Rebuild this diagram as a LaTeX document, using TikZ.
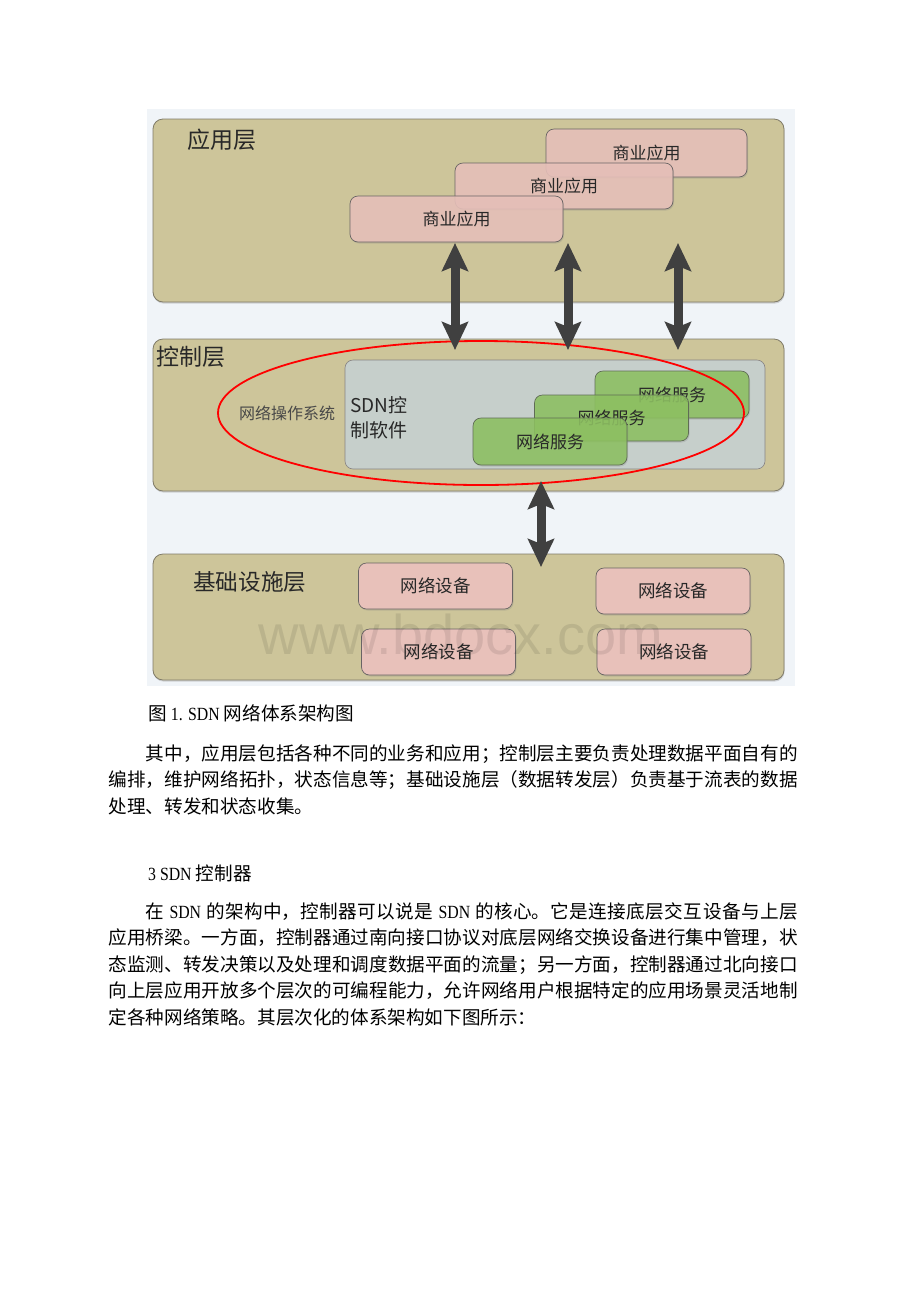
\documentclass[tikz,border=0pt]{standalone}
\usepackage{fontspec}
\setmainfont{Noto Sans CJK SC}
\newfontfamily\lat[FakeStretch=0.85]{Liberation Serif}
\newfontfamily\wmfont{Liberation Sans}
\usetikzlibrary{arrows.meta,shadows,shapes.geometric}
\XeTeXlinebreaklocale "zh"
\XeTeXlinebreakskip=0pt plus 1pt minus 0.3pt
\definecolor{page_bg}{RGB}{240,244,248}
\definecolor{layer_tan}{RGB}{205,197,154}
\definecolor{layer_edge}{RGB}{128,123,104}
\definecolor{box_pink}{RGB}{232,193,186}
\definecolor{box_edge}{RGB}{105,100,100}
\definecolor{sdn_gray}{RGB}{198,207,203}
\definecolor{svc_green}{RGB}{141,194,96}
\definecolor{svc_edge}{RGB}{95,108,85}
\definecolor{arrow_gray}{RGB}{64,64,64}
\definecolor{text_dark}{RGB}{40,40,40}

\begin{document}
\begin{tikzpicture}[x=1pt,y=-1pt]
    \tikzstyle{layer}=[draw=layer_edge, fill=layer_tan, rounded corners=10pt, line width=0.8pt, inner sep=0pt, minimum width=631pt, drop shadow={shadow xshift=0.6pt,shadow yshift=-1.6pt,opacity=0.3}]
    \tikzstyle{pinkbox}=[draw=box_edge, fill=box_pink, fill opacity=0.88, text opacity=1, rounded corners=8pt, line width=0.7pt, inner sep=0pt, text=text_dark, font=\fontsize{17}{17}\selectfont, drop shadow={shadow xshift=1pt,shadow yshift=-1.5pt,opacity=0.25}]
    \tikzstyle{svcbox}=[pinkbox, draw=svc_edge, fill=svc_green, fill opacity=0.85, minimum width=154pt, minimum height=47pt]
    \tikzstyle{devbox}=[pinkbox, fill opacity=1, minimum width=154pt, minimum height=46pt, font=\fontsize{17.5}{17.5}\selectfont]
    \tikzstyle{lbl}=[anchor=west, inner sep=0pt, text=text_dark, font=\fontsize{23}{23}\selectfont]
    \tikzstyle{dual}=[draw=arrow_gray, line width=9pt, {Stealth[length=28pt,width=26pt,inset=5pt]}-{Stealth[length=28pt,width=26pt,inset=5pt]}]
    \tikzstyle{line}=[anchor=base west, inner sep=0pt, font=\fontsize{18.6}{26.4}\selectfont]
    \tikzstyle{para}=[line, text width=689pt, align=justify]

    \useasboundingbox (0,0) rectangle (920,1302);
    \fill[white] (0,0) rectangle (920,1302);
    \fill[page_bg] (147,109) rectangle (795,686);

    % three layers
    \node[layer, minimum height=183pt] (app)   at (468.5,210.5) {};
    \node[layer, minimum height=152pt] (ctl)   at (468.5,415)   {};
    \node[layer, minimum height=126pt] (infra) at (468.5,617)   {};
    \node[lbl] (appl)   at (187,140) {应用层};
    \node[lbl] (ctll)   at (156,357) {控制层};
    \node[lbl, font=\fontsize{22.6}{22.6}\selectfont] (infral) at (193,582) {基础设施层};

    % business applications
    \node[pinkbox, minimum width=201pt, minimum height=48pt] (biz1) at (646.5,153) {商业应用};
    \node[pinkbox, minimum width=218pt, minimum height=46pt] (biz2) at (564,186)   {商业应用};
    \node[pinkbox, minimum width=213pt, minimum height=46pt] (biz3) at (456.5,219) {商业应用};

    % controller software
    \node[draw=box_edge!80, fill=sdn_gray, rounded corners=8pt, line width=0.6pt, minimum width=420pt, minimum height=109pt] (sdn) at (555,414.5) {};
    \node[anchor=north west, inner sep=0pt, align=left, text=text_dark, font=\fontsize{19}{25}\selectfont] (sdnl) at (350,396) {SDN控\\制软件};
    \node[svcbox] (svc1) at (672,394.5)   {网络服务};
    \node[svcbox, minimum height=46pt] (svc2) at (611.5,418) {网络服务};
    \node[svcbox] (svc3) at (550,441.5)   {网络服务};

    % network devices
    \node[devbox] (dev1) at (435.5,586) {网络设备};
    \node[devbox] (dev2) at (673,591)   {网络设备};
    \node[devbox] (dev3) at (438.5,652) {网络设备};
    \node[devbox] (dev4) at (674,652)   {网络设备};
    \node[inner sep=0pt, text=black, text opacity=0.09, font=\wmfont\fontsize{56}{56}\selectfont] (wmark) at (461,634) {www.bdocx.com};

    % network operating system
    \node[ellipse, draw=red, line width=1.8pt, minimum width=526pt, minimum height=144pt, inner sep=0pt] (nos) at (481,413) {};
    \node[inner sep=0pt, text=text_dark!85, font=\fontsize{16}{16}\selectfont] (nosl) at (287,413) {网络操作系统};

    % interfaces
    \coordinate (n1) at (455,243); \coordinate (s1) at (455,350);
    \coordinate (n2) at (568,243); \coordinate (s2) at (568,350);
    \coordinate (n3) at (678,243); \coordinate (s3) at (678,350);
    \coordinate (n4) at (541,481); \coordinate (s4) at (541,567);
    \path
     (n1) edge[dual] (s1)
     (n2) edge[dual] (s2)
     (n3) edge[dual] (s3)
     (n4) edge[dual] (s4)
     ;

    % text below
    \node[line] (cap) at (148,720) {图 {\lat 1. SDN} 网络体系架构图};
    \node[para] (par1) at (108.5,760.5) {\hspace*{2em}其中，应用层包括各种不同的业务和应用；控制层主要负责处理数据平面自有的\linebreak 编排，维护网络拓扑，状态信息等；基础设施层（数据转发层）负责基于流表的数据\linebreak 处理、转发和状态收集。};
    \node[line] (sec) at (148,880) {{\lat 3 SDN} 控制器};
    \node[para] (par2) at (108.5,918.5) {\hspace*{2em}在 {\lat SDN} 的架构中，控制器可以说是 {\lat SDN} 的核心。它是连接底层交互设备与上层\linebreak 应用桥梁。一方面，控制器通过南向接口协议对底层网络交换设备进行集中管理，状\linebreak 态监测、转发决策以及处理和调度数据平面的流量；另一方面，控制器通过北向接口\linebreak 向上层应用开放多个层次的可编程能力，允许网络用户根据特定的应用场景灵活地制\linebreak 定各种网络策略。其层次化的体系架构如下图所示：};
\end{tikzpicture}
\end{document}
